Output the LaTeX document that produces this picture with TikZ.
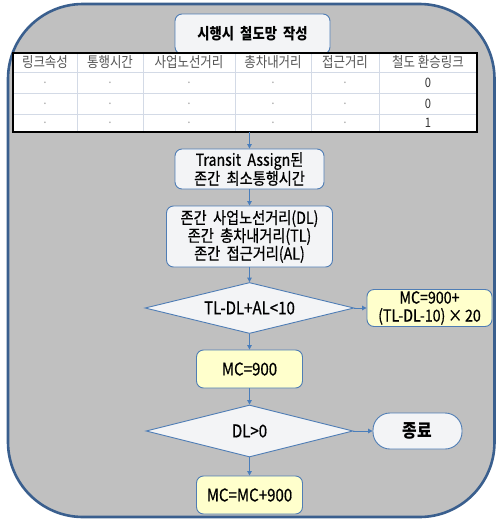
\documentclass[tikz,border=0pt]{standalone}
\usepackage{fontspec}
\setmainfont{Noto Sans CJK KR}[FakeStretch=0.86]
\newfontfamily\flowfont{Noto Sans CJK KR}[FakeStretch=0.86,FakeBold=0.6]
\usetikzlibrary{shapes.geometric,arrows.meta}
\definecolor{bgray}{HTML}{C0C0C0}
\definecolor{outerblue}{HTML}{3A5F8E}
\definecolor{nodeblue}{HTML}{4F7DB5}
\definecolor{arrowblue}{HTML}{4A7EBB}
\definecolor{boxfill}{HTML}{F3F4F6}
\definecolor{yel}{HTML}{FFFFCC}
\definecolor{gridc}{HTML}{D3DAE6}
\definecolor{headtxt}{HTML}{555555}
\definecolor{dotc}{HTML}{999999}
\tikzset{
  procbox/.style={draw=nodeblue, line width=0.9pt, rounded corners=7pt, fill=boxfill,
    align=center, inner sep=0pt, font=\flowfont\fontsize{16.5}{16.5}\selectfont},
  yelbox/.style={procbox, fill=yel},
  decbox/.style={diamond, aspect=4, draw=nodeblue, line width=0.9pt, fill=boxfill,
    inner sep=0pt, font=\flowfont\fontsize{17.5}{18}\selectfont},
  endbox/.style={procbox, rounded corners=17pt},
  arr/.style={draw=arrowblue, line width=1pt, -{Triangle[length=4.5pt,width=4.5pt]}},
  hcell/.style={text=headtxt, font=\fontsize{14.5}{15}\selectfont, inner sep=0pt},
  dcell/.style={text=dotc, font=\fontsize{12}{13}\selectfont, inner sep=0pt},
  ncell/.style={text=black!80, font=\fontsize{13}{14}\selectfont, inner sep=0pt},
}
\begin{document}
\begin{tikzpicture}[x=1pt,y=-1pt]
\useasboundingbox (0,0) rectangle (497,520);
% outer panel
\draw[fill=bgray, draw=outerblue, line width=2.6pt, rounded corners=75pt] (8,4) rectangle (494.5,517);
% title
\node[procbox, font=\fontsize{15.5}{17}\selectfont\bfseries, minimum width=155pt, minimum height=40pt] (title) at (252.5,34) {시행시\ \ 철도망\ \ 작성};
% table
\fill[white] (13,53) rectangle (477,132);
\foreach \yy in {72,93,114} \draw[gridc, line width=0.8pt] (13,\yy) -- (477,\yy);
\foreach \xx in {77,143,235,311,379} \draw[gridc, line width=0.8pt] (\xx,53) -- (\xx,132);
\draw[black, line width=1.6pt] (13,53) rectangle (477,132);
\node[hcell] (h1) at (45,62.5) {링크속성};
\node[hcell] (h2) at (110,62.5) {통행시간};
\node[hcell] (h3) at (189,62.5) {사업노선거리};
\node[hcell] (h4) at (273,62.5) {총차내거리};
\node[hcell] (h5) at (345,62.5) {접근거리};
\node[hcell] (h6) at (428,62.5) {철도\ 환승링크};
\foreach \yy/\vv [count=\r] in {82.5/0,103.5/0,123/1}{
  \node[dcell] (c1\r) at (45,\yy) {.};
  \node[dcell] (c2\r) at (110,\yy) {.};
  \node[dcell] (c3\r) at (189,\yy) {.};
  \node[dcell] (c4\r) at (273,\yy) {.};
  \node[dcell] (c5\r) at (345,\yy) {.};
  \node[ncell] (c6\r) at (428,\yy) {\vv};
}
\coordinate (tablebot) at (249.5,132);
% flow
\node[procbox, minimum width=149pt, minimum height=40pt] (transit) at (249.5,169) {Transit\ \ Assign된\\존간\ \ 최소통행시간};
\node[procbox, minimum width=166pt, minimum height=61pt] (zone) at (249.5,236.5) {존간\ \ 사업노선거리(DL)\\존간\ \ 총차내거리(TL)\\존간\ \ 접근거리(AL)};
\node[decbox, minimum width=209pt, minimum height=51pt] (d1) at (249.5,308) {TL-DL+AL<10};
\node[yelbox, minimum width=125pt, minimum height=37pt, font=\flowfont\fontsize{16.5}{18}\selectfont] (yes1) at (429.5,308) {MC=900+\\(TL-DL-10)\,×\,20};
\node[yelbox, minimum width=106pt, minimum height=38pt, font=\flowfont\fontsize{17.5}{18}\selectfont] (mc) at (249.5,369) {MC=900};
\node[decbox, minimum width=207pt, minimum height=52pt] (d2) at (249.5,431) {DL>0};
\node[endbox, minimum width=89pt, minimum height=36pt, font=\fontsize{18.5}{19}\selectfont\bfseries] (end) at (417.5,431) {종료};
\node[yelbox, minimum width=106pt, minimum height=38pt, font=\flowfont\fontsize{17.5}{18}\selectfont] (mcplus) at (249.5,495) {MC=MC+900};
% connectors
\draw[arr] (tablebot) -- (transit);
\draw[arr] (transit) -- (zone);
\draw[arr] (zone) -- (d1);
\draw[arr] (d1) -- (yes1);
\draw[arr] (d1) -- (mc);
\draw[arr] (mc) -- (d2);
\draw[arr] (d2) -- (end);
\draw[arr] (d2) -- (mcplus);
\end{tikzpicture}
\end{document}
